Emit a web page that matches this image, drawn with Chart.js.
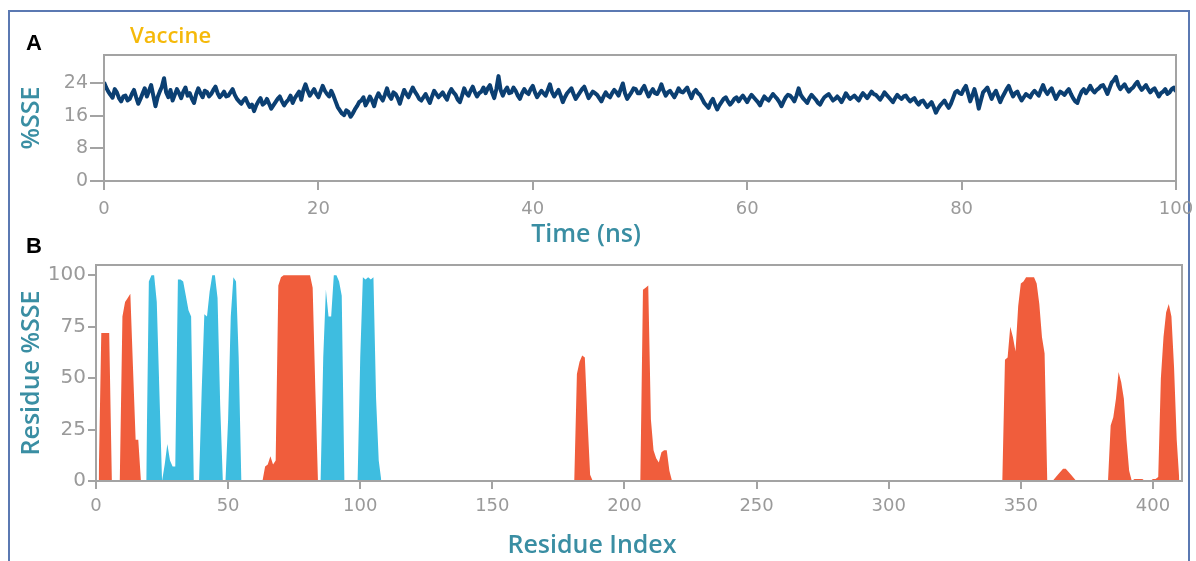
<!DOCTYPE html>
<html>
<head>
<meta charset="utf-8">
<script src="https://cdn.jsdelivr.net/npm/chart.js@4.4.1/dist/chart.umd.min.js"></script>
<style>
  body { margin: 0; background: #fff; }
  #page { position: relative; width: 1196px; height: 561px; overflow: hidden; }
  #frame { position: absolute; left: 8px; top: 10px; width: 1182px; height: 600px; border: 2px solid #5b79b2; box-sizing: border-box; }
  .box { position: absolute; left: 0; width: 1196px; }
  .lbl { position: absolute; line-height: 1; white-space: nowrap; }
  .panel { font-family: "Liberation Sans", Arial, sans-serif; font-weight: bold; font-size: 22px; color: #000; }
  .axt { font-family: "Open Sans", sans-serif; font-weight: 600; font-size: 25px; color: #3a8ea3; text-align: center; width: 240px; }
</style>
</head>
<body>
<div id="page">
  <div id="frame"></div>
  <div class="box" style="top:0;height:230px"><canvas id="sseChart"></canvas></div>
  <div class="box" style="top:230px;height:331px"><canvas id="resChart"></canvas></div>
  <div class="lbl panel" style="left:26px;top:32px">A</div>
  <div class="lbl panel" style="left:26px;top:235px">B</div>
  <div class="lbl" style="left:130px;top:23px;font-family:'Open Sans',sans-serif;font-weight:600;font-size:22px;color:#f5b90a">Vaccine</div>
  <div class="lbl axt" style="left:466px;top:220px">Time (ns)</div>
  <div class="lbl axt" style="left:472px;top:531px">Residue Index</div>
</div>
<script>
// panel A: %SSE over the trajectory, one value every 0.2 ns
var timeStep = 0.2;
var sseValues = [
  // 0-10 ns
  24.3, 23.0, 22.0, 21.2, 20.5, 22.6, 21.8, 20.4, 19.6, 20.8,
  21.0, 19.8, 20.2, 21.4, 22.4, 20.6, 19.0, 20.2, 21.5, 22.8,
  20.8, 22.2, 23.6, 21.0, 18.4, 20.6, 22.0, 23.2, 25.3, 21.8,
  20.6, 22.4, 19.8, 21.2, 22.6, 21.6, 20.4, 22.0, 23.0, 21.0,
  21.6, 20.2, 19.2, 21.4, 22.8, 21.6, 20.6, 22.2, 21.9, 20.8,
  // 10-20 ns
  21.4, 22.4, 23.2, 21.6, 20.6, 21.2, 22.0, 20.8, 21.0, 21.8,
  22.6, 21.2, 20.2, 19.6, 19.0, 19.8, 20.4, 19.2, 18.2, 18.8,
  17.2, 18.6, 19.6, 20.4, 18.8, 19.2, 20.2, 19.0, 17.8, 18.6,
  19.4, 20.2, 20.8, 19.6, 18.6, 19.4, 20.0, 21.0, 19.2, 20.4,
  21.2, 22.0, 20.0, 22.4, 23.8, 22.2, 21.0, 21.8, 22.6, 21.4,
  // 20-30 ns
  20.6, 22.0, 23.4, 22.2, 21.4, 20.8, 22.2, 21.0, 19.6, 18.2,
  17.4, 16.6, 16.2, 17.4, 17.0, 15.8, 16.6, 17.6, 18.4, 19.4,
  19.8, 20.6, 18.6, 19.6, 20.8, 19.8, 18.4, 20.4, 21.6, 20.6,
  19.8, 21.2, 22.8, 21.0, 20.2, 21.8, 21.4, 20.4, 19.0, 20.8,
  22.4, 21.4, 20.6, 21.8, 23.0, 22.0, 21.2, 20.2, 19.8, 20.6,
  // 30-40 ns
  21.4, 20.2, 19.2, 20.8, 22.2, 21.4, 20.6, 21.2, 21.8, 20.8,
  20.0, 21.6, 22.6, 21.8, 21.2, 20.0, 19.4, 21.0, 22.8, 21.6,
  21.0, 22.2, 23.2, 21.8, 20.8, 21.6, 22.0, 23.0, 21.6, 22.8,
  23.6, 21.8, 20.4, 22.6, 25.8, 22.4, 21.0, 22.2, 23.0, 21.6,
  21.8, 23.0, 22.2, 21.0, 20.2, 21.6, 22.6, 21.8, 21.4, 22.6,
  // 40-50 ns
  23.4, 21.8, 20.6, 21.4, 22.2, 21.6, 21.0, 22.4, 23.8, 21.8,
  20.8, 21.6, 22.4, 21.0, 19.4, 20.6, 21.6, 22.2, 22.8, 21.4,
  20.2, 21.0, 21.8, 22.6, 23.2, 21.8, 20.4, 21.2, 22.0, 21.6,
  21.2, 20.4, 19.6, 20.8, 21.8, 21.0, 20.6, 21.6, 22.4, 21.8,
  21.0, 22.6, 24.0, 21.6, 20.2, 21.0, 21.8, 22.8, 22.6, 21.6,
  // 50-60 ns
  21.6, 22.6, 23.4, 22.0, 20.8, 21.8, 22.6, 21.6, 21.4, 22.4,
  23.8, 22.2, 21.0, 21.8, 22.2, 21.4, 20.6, 21.6, 22.8, 22.0,
  21.8, 22.4, 23.0, 21.6, 20.4, 21.8, 22.4, 21.6, 21.2, 20.2,
  19.2, 18.6, 18.0, 19.4, 20.2, 18.8, 17.6, 18.6, 19.4, 20.2,
  20.6, 19.6, 18.8, 19.4, 20.2, 20.6, 19.6, 20.4, 21.0, 20.2,
  // 60-70 ns
  19.4, 20.4, 21.2, 20.6, 20.0, 19.4, 18.6, 19.8, 20.8, 20.2,
  19.8, 20.6, 21.4, 20.8, 20.2, 19.4, 18.4, 19.6, 20.6, 21.2,
  21.0, 20.4, 19.6, 21.0, 22.8, 21.2, 20.4, 19.8, 19.2, 20.4,
  21.2, 20.6, 20.0, 19.2, 18.8, 19.8, 20.6, 21.0, 21.4, 20.6,
  19.8, 20.2, 20.8, 20.2, 19.4, 20.4, 21.6, 20.8, 20.2, 20.6,
  // 70-80 ns
  21.0, 20.4, 19.8, 20.8, 21.6, 21.0, 20.4, 21.2, 22.0, 21.4,
  21.2, 20.6, 20.0, 20.8, 21.8, 21.2, 20.6, 20.0, 19.4, 20.4,
  21.2, 20.6, 20.2, 20.8, 21.0, 20.2, 19.6, 20.0, 20.4, 19.4,
  18.8, 19.6, 19.8, 19.0, 18.2, 18.8, 19.4, 18.2, 16.8, 17.8,
  18.6, 19.2, 19.8, 18.8, 18.0, 19.0, 20.4, 21.8, 22.2, 21.6,
  // 80-90 ns
  21.4, 22.6, 23.4, 21.6, 19.6, 21.0, 22.6, 20.6, 17.8, 19.8,
  21.8, 22.4, 23.0, 21.6, 20.2, 21.4, 22.2, 20.8, 19.4, 20.6,
  21.6, 22.6, 23.4, 22.0, 20.8, 21.6, 22.0, 20.8, 19.8, 20.6,
  21.4, 21.0, 20.6, 21.6, 22.2, 21.6, 21.0, 22.4, 23.6, 22.2,
  21.4, 22.2, 22.8, 21.4, 20.2, 21.2, 22.0, 21.6, 21.2, 22.0,
  // 90-100 ns
  22.6, 21.4, 20.4, 19.6, 19.2, 20.8, 22.0, 22.6, 21.6, 22.4,
  23.4, 22.4, 21.8, 22.4, 22.8, 23.4, 23.6, 22.6, 21.4, 22.8,
  24.2, 24.8, 25.6, 23.6, 22.6, 23.2, 23.8, 22.8, 22.0, 22.6,
  23.0, 23.8, 24.4, 23.2, 22.4, 23.0, 23.6, 22.6, 21.8, 22.4,
  22.8, 21.8, 20.8, 21.6, 22.0, 22.6, 21.4, 21.8, 22.6, 23.0,
  22.0
];
var timeTicks = [0, 20, 40, 60, 80, 100];
var sseTicks = [0, 8, 16, 24];

// panel B: per-residue %SSE (helix in red, strand in blue)
var helixRes = [1, 2, 3, 4, 5, 6,
  9, 10, 11, 12, 13, 14, 15, 16, 17,
  63, 64, 65, 66, 67, 68, 69, 70, 71, 80, 81, 82, 83, 84,
  181, 182, 183, 184, 185, 186, 187, 188,
  206, 207, 208, 209, 210, 211, 212, 213, 214, 215, 216, 217, 218,
  343, 344, 345, 346, 347, 348, 349, 350, 351, 352, 353, 354, 355, 356, 357, 358, 359, 360,
  362, 364, 366, 367, 369, 371,
  383, 384, 385, 386, 387, 388, 389, 390, 391, 392, 393, 396, 397, 399, 400, 401, 402,
  403, 404, 405, 406, 407, 408, 409, 410];
var helixPct = [0, 72, 72, 72, 72, 0,
  0, 80, 87, 89, 91, 55, 20, 20, 0,
  0, 7, 8, 12, 8, 10, 95, 99, 100, 100, 100, 94, 45, 0,
  0, 52, 58, 61, 60, 30, 3, 0,
  0, 93, 94, 95, 30, 15, 11, 9, 14, 15, 15, 5, 0,
  0, 59, 60, 75, 70, 63, 85, 96, 97, 99, 99, 99, 99, 96, 86, 70, 62, 0,
  0, 3, 6, 6, 3, 0,
  0, 27, 31, 40, 53, 48, 40, 20, 5, 0, 1, 1, 0, 0, 1, 1, 2,
  50, 70, 82, 86, 80, 55, 20, 0];
var strandRes = [19, 20, 21, 22, 23, 24, 25, 26, 27, 28, 29, 30, 31, 32, 33, 34, 35, 36, 37,
  39, 40, 41, 42, 43, 44, 45, 46, 47, 48,
  49, 50, 51, 52, 53, 54, 55,
  85, 86, 87, 88, 89, 90, 91, 92, 93, 94,
  99, 100, 101, 102, 103, 104, 105, 106, 107, 108];
var strandPct = [0, 97, 100, 100, 87, 43, 0, 8, 18, 10, 7, 7, 98, 98, 97, 90, 83, 80, 0,
  0, 44, 81, 80, 92, 100, 100, 89, 37, 0,
  0, 30, 80, 99, 97, 60, 0,
  0, 60, 93, 80, 80, 100, 100, 97, 90, 0,
  0, 60, 99, 98, 99, 98, 99, 40, 10, 0];
var residueTicks = [0, 50, 100, 150, 200, 250, 300, 350, 400];
var pctTicks = [0, 25, 50, 75, 100];

var axisGray = '#a3a3a3';
var tickGray = '#9a9a9a';
var teal = '#3a8ea3';

var frame = {
  id: 'frame',
  afterDatasetsDraw(chart) {
    const { ctx, chartArea: a } = chart;
    ctx.save();
    ctx.strokeStyle = axisGray;
    ctx.lineWidth = 2;
    ctx.strokeRect(a.left, a.top, a.right - a.left, a.bottom - a.top);
    ctx.restore();
  }
};

function tickSetter(list) {
  return function (s) { s.ticks = list.map(v => ({ value: v })); };
}

function xScale(min, max, list, height, tickLen, pad) {
  return {
    type: 'linear', min: min, max: max,
    afterBuildTicks: tickSetter(list),
    afterFit: s => { s.height = height; s.paddingLeft = 0; s.paddingRight = 0; },
    grid: { drawOnChartArea: false, tickLength: tickLen, color: axisGray, lineWidth: 2 },
    border: { display: false },
    ticks: { color: tickGray, font: { family: 'DejaVu Sans', size: 18 }, padding: pad, maxRotation: 0, autoSkip: false }
  };
}

function yScale(min, max, list, width, tickLen, fontSize, title) {
  return {
    min: min, max: max,
    afterBuildTicks: tickSetter(list),
    afterFit: s => { s.width = width; s.paddingTop = 0; s.paddingBottom = 0; },
    grid: { drawOnChartArea: false, tickLength: tickLen, color: axisGray, lineWidth: 2 },
    border: { display: false },
    ticks: { color: tickGray, font: { family: 'DejaVu Sans', size: fontSize }, padding: 2 },
    title: { display: true, text: title, color: teal, font: { family: 'Open Sans', weight: '600', size: 25 }, padding: { top: 17, bottom: 0 } }
  };
}

new Chart(document.getElementById('sseChart'), {
  type: 'line',
  data: {
    datasets: [{
      data: sseValues.map((v, i) => ({ x: i * timeStep, y: v })),
      borderColor: '#0b3f72',
      borderWidth: 4,
      borderJoinStyle: 'round',
      pointRadius: 0,
      tension: 0,
      fill: false
    }]
  },
  options: {
    animation: false,
    responsive: true,
    maintainAspectRatio: false,
    layout: { padding: { top: 55, right: 20, bottom: 0, left: 0 } },
    plugins: { legend: { display: false }, tooltip: { enabled: false } },
    scales: {
      x: xScale(0, 100, timeTicks, 49, 9, 9),
      y: yScale(0, 31, sseTicks, 104, 14, 19, '%SSE')
    }
  },
  plugins: [frame]
});

new Chart(document.getElementById('resChart'), {
  type: 'line',
  data: {
    datasets: [{
      label: 'Helix',
      data: helixRes.map((r, i) => ({ x: r, y: helixPct[i] })),
      backgroundColor: '#f05d3c',
      borderColor: 'rgba(0,0,0,0)',
      borderWidth: 0,
      pointRadius: 0,
      tension: 0,
      fill: 'origin'
    }, {
      label: 'Strand',
      data: strandRes.map((r, i) => ({ x: r, y: strandPct[i] })),
      backgroundColor: '#3ebde0',
      borderColor: 'rgba(0,0,0,0)',
      borderWidth: 0,
      pointRadius: 0,
      tension: 0,
      fill: 'origin'
    }]
  },
  options: {
    animation: false,
    responsive: true,
    maintainAspectRatio: false,
    layout: { padding: { top: 35, right: 14, bottom: 0, left: 0 } },
    plugins: { legend: { display: false }, tooltip: { enabled: false } },
    scales: {
      x: xScale(0, 411, residueTicks, 80, 8, 7),
      y: yScale(0, 105, pctTicks, 96, 8, 20, 'Residue %SSE')
    }
  },
  plugins: [frame]
});
</script>
</body>
</html>
